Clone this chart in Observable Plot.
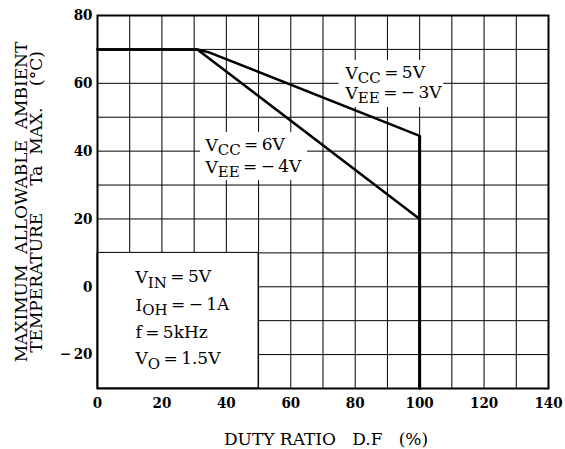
<!DOCTYPE html>
<html>
<head>
<meta charset="utf-8">
<script src="https://cdn.jsdelivr.net/npm/d3@7"></script>
<script src="https://cdn.jsdelivr.net/npm/@observablehq/plot@0.6"></script>
<style>
  html, body { margin: 0; padding: 0; background: #fff; }
</style>
</head>
<body>
<div id="chart"></div>
<script>
// ---- data ----
const dutyUpper = [0, 31, 35, 100, 100];      // VCC=5V, VEE=-3V (incl. cut-off at 100%)
const tempUpper = [70, 70, 69, 44.5, -30];
const dutyLower = [0, 31, 100];               // VCC=6V, VEE=-4V
const tempLower = [70, 70, 20];
const xTicks = [0, 20, 40, 60, 80, 100, 120, 140];
const yTicks = [-20, 0, 20, 40, 60, 80];
const xGrid = d3.range(0, 141, 10);
const yGrid = d3.range(-30, 81, 10);
const labelA = ["V_{CC}\u2009=\u20095V", "V_{EE}\u2009=\u2009\u2212\u20093V"];
const labelB = ["V_{CC}\u2009=\u20096V", "V_{EE}\u2009=\u2009\u2212\u20094V"];
const conditions = ["V_{IN}\u2009=\u20095V", "I_{OH}\u2009=\u2009\u2212\u20091A", "f\u2009=\u20095kHz", "V_{O}\u2009=\u20091.5V"];
const yLabel1 = "MAXIMUM  ALLOWABLE  AMBIENT";
const yLabel2 = "TEMPERATURE     Ta  MAX.    (\u00B0C)";
const xLabel = "DUTY RATIO   D.F   (%)";

const upper = dutyUpper.map((d, i) => ({x: d, y: tempUpper[i]}));
const lower = dutyLower.map((d, i) => ({x: d, y: tempLower[i]}));

const SERIF = "'DejaVu Serif', 'Liberation Serif', serif";
const TICKFONT = "'DejaVu Serif Condensed', 'DejaVu Serif', serif";

const chart = Plot.plot({
  width: 565,
  height: 449,
  marginLeft: 97,
  marginRight: 17,
  marginTop: 15,
  marginBottom: 61,
  x: {domain: [0, 140], axis: null},
  y: {domain: [-30, 80], axis: null},
  style: {fontFamily: SERIF, fontSize: "17px", background: "#fff", color: "#000"},
  marks: [
    Plot.ruleX(xGrid, {stroke: "#000", strokeWidth: 1}),
    Plot.ruleY(yGrid, {stroke: "#000", strokeWidth: 1}),
    // white label backgrounds
    Plot.rect([{x1: 75, x2: 107.5, y1: 52.9, y2: 66.7}], {x1: "x1", x2: "x2", y1: "y1", y2: "y2", fill: "#fff"}),
    Plot.rect([{x1: 32, x2: 65.2, y1: 31.3, y2: 45.5}], {x1: "x1", x2: "x2", y1: "y1", y2: "y2", fill: "#fff"}),
    Plot.rect([{x1: 0, x2: 50, y1: -30, y2: 10}], {x1: "x1", x2: "x2", y1: "y1", y2: "y2", fill: "#fff", stroke: "#000", strokeWidth: 1}),
    // curves
    Plot.line(lower, {x: "x", y: "y", stroke: "#000", strokeWidth: 2.5, strokeLinejoin: "miter"}),
    Plot.line(upper, {x: "x", y: "y", stroke: "#000", strokeWidth: 2.5, strokeLinejoin: "miter"}),
    Plot.ruleX([100], {y1: -30, y2: 44.5, stroke: "#000", strokeWidth: 3}),
    Plot.frame({stroke: "#000", strokeWidth: 2}),
    // axes
    Plot.axisX(xTicks, {tickSize: 0, tickPadding: 9, fontSize: 15, fontWeight: "bold", fontFamily: TICKFONT, tickFormat: d => String(d)}),
    Plot.axisY(yTicks, {tickSize: 0, tickPadding: 5, fontSize: 15, fontWeight: "bold", fontFamily: TICKFONT, tickFormat: d => d < 0 ? "\u2212\u2009" + Math.abs(d) : String(d)}),
    // annotations
    Plot.text(labelA, {x: 77, y: (d, i) => 63 - i * 5.9, text: d => d, textAnchor: "start", fontSize: 17, className: "subtext"}),
    Plot.text(labelB, {x: 33.5, y: (d, i) => 41.7 - i * 6.5, text: d => d, textAnchor: "start", fontSize: 17, className: "subtext"}),
    Plot.text(conditions, {x: 11.8, y: (d, i) => [2.7, -5.5, -13.5, -21.2][i], text: d => d, textAnchor: "start", fontSize: 17, className: "subtext"}),
    Plot.text([yLabel1], {frameAnchor: "left", dx: -76, rotate: -90, textAnchor: "middle", lineAnchor: "middle", fontSize: 17}),
    Plot.text([yLabel2], {frameAnchor: "left", dx: -61, rotate: -90, textAnchor: "middle", lineAnchor: "middle", fontSize: 17}),
    Plot.text([xLabel], {frameAnchor: "bottom", dy: 51.5, dx: 3, textAnchor: "middle", lineAnchor: "middle", fontSize: 17})
  ]
});

document.getElementById("chart").appendChild(chart);

// render subscripts marked as _{...}
d3.select(chart).selectAll(".subtext text").each(function() {
  const el = d3.select(this);
  const s = el.text();
  el.text(null);
  const parts = s.split(/(_\{[^}]*\})/).filter(p => p.length);
  let shifted = false;
  parts.forEach(p => {
    if (p.startsWith("_{")) {
      el.append("tspan").attr("dy", "0.3em").attr("font-size", "15px").text(p.slice(2, -1));
      shifted = true;
    } else {
      const t = el.append("tspan").text(p);
      if (shifted) { t.attr("dy", "-0.3em"); shifted = false; }
    }
  });
});
</script>
</body>
</html>
